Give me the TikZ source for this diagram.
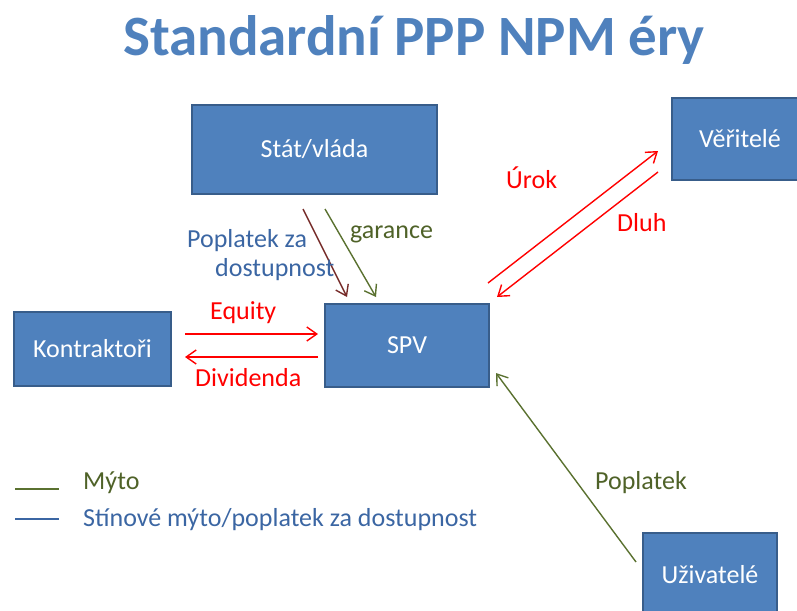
\documentclass[tikz,border=0pt]{standalone}
\usepackage{fontspec}
\setmainfont{Carlito}
\usetikzlibrary{arrows.meta}
\definecolor{boxfill}{HTML}{4F81BD}
\definecolor{boxline}{HTML}{385D8A}
\definecolor{titleblue}{HTML}{4F81BD}
\definecolor{labelblue}{HTML}{3B66A3}
\definecolor{olive}{HTML}{4F6228}
\definecolor{oliveline}{HTML}{5A7130}
\definecolor{maroon}{HTML}{772C2A}
\definecolor{flowred}{HTML}{FF0000}
\tikzset{
  actor/.style={draw=boxline, line width=1.6pt, fill=boxfill, text=white,
    inner sep=0pt, font=\fontsize{26}{30}\selectfont},
  flow/.style={line width=1.4pt, -{Straight Barb[length=10pt,width=14pt,line width=1.4pt]}},
  lbl/.style={inner sep=0pt, anchor=base west, font=\fontsize{26}{30}\selectfont},
}
\begin{document}
\begin{tikzpicture}[x=1pt,y=-1pt]
\useasboundingbox (0,0) rectangle (797,610);

% title
\node[inner sep=0pt, anchor=base, text=titleblue,
      font=\fontsize{57}{64}\selectfont\bfseries] (title) at (414,56) {Standardní PPP NPM éry};

% actors
\node[actor, minimum width=245pt, minimum height=89pt] (stat) at (314.5,149.5) {Stát/vláda};
\node[actor, minimum width=136pt, minimum height=82pt] (veritele) at (740,139) {Věřitelé};
\node[actor, minimum width=157pt, minimum height=74pt] (kontr) at (92.5,349) {Kontraktoři};
\node[actor, minimum width=164pt, minimum height=83pt] (spv) at (407,345.5) {SPV};
\node[actor, minimum width=134pt, minimum height=84pt] (uziv) at (710,575) {Uživatelé};

% connector end points
\coordinate (pA1) at (303,209);  \coordinate (pA2) at (347,297);
\coordinate (gA1) at (325,209);  \coordinate (gA2) at (376,297);
\coordinate (uA1) at (488,283);  \coordinate (uA2) at (658,151);
\coordinate (dA1) at (658,172);  \coordinate (dA2) at (497,297);
\coordinate (eA1) at (185,334);  \coordinate (eA2) at (318,334);
\coordinate (vA1) at (318,357);  \coordinate (vA2) at (185,357);
\coordinate (fA1) at (636,562);  \coordinate (fA2) at (496,373);

% flows
\draw[flow, draw=maroon] (pA1) -- (pA2);
\draw[flow, draw=oliveline] (gA1) -- (gA2);
\draw[flow, draw=flowred] (uA1) -- (uA2);
\draw[flow, draw=flowred] (dA1) -- (dA2);
\draw[flow, draw=flowred] (eA1) -- (eA2);
\draw[flow, draw=flowred] (vA1) -- (vA2);
\draw[flow, draw=oliveline] (fA1) -- (fA2);

% flow labels
\node[lbl, text=labelblue] (lpop1) at (187,247) {Poplatek za};
\node[lbl, text=labelblue] (lpop2) at (215,276) {dostupnost};
\node[lbl, text=olive] (lgar) at (350,238) {garance};
\node[lbl, text=flowred] (lurok) at (506,188) {Úrok};
\node[lbl, text=flowred] (ldluh) at (617,231) {Dluh};
\node[lbl, text=flowred] (lequ) at (210,319) {Equity};
\node[lbl, text=flowred] (ldiv) at (195,386) {Dividenda};
\node[lbl, text=olive] (lpopl) at (595,489) {Poplatek};

% legend
\coordinate (lg1a) at (15,489); \coordinate (lg1b) at (59,489);
\coordinate (lg2a) at (15,519); \coordinate (lg2b) at (59,519);
\draw[line width=1.5pt, draw=oliveline] (lg1a) -- (lg1b);
\draw[line width=1.5pt, draw=labelblue] (lg2a) -- (lg2b);
\node[lbl, text=olive] (lmyto) at (83,489) {Mýto};
\node[lbl, text=labelblue] (lstin) at (83,526) {Stínové mýto/poplatek za dostupnost};
\end{tikzpicture}
\end{document}
